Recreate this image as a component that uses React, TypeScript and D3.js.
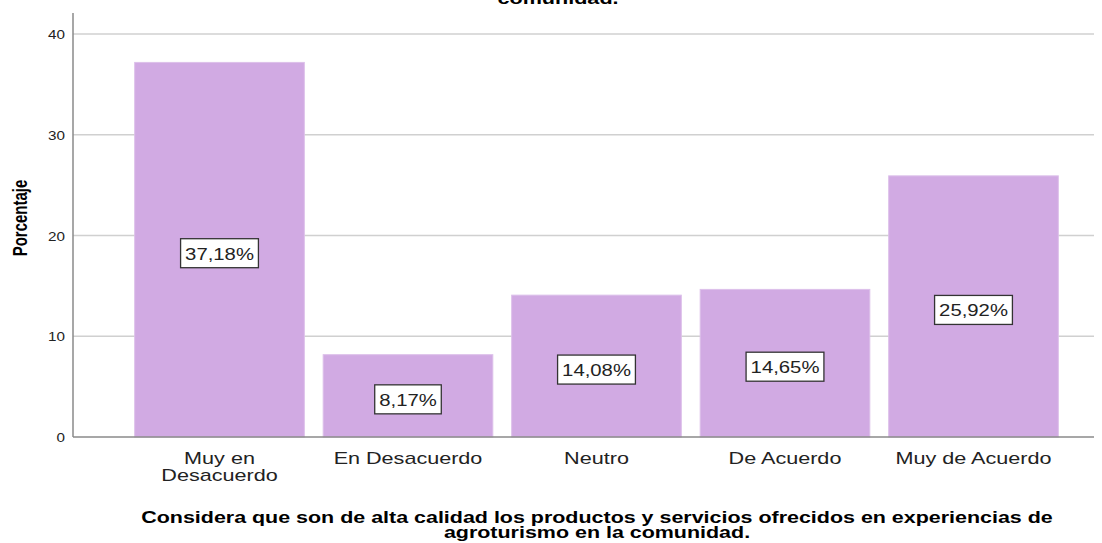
import React, { useEffect, useRef } from "react";
import * as d3 from "d3";

const categories = ["Muy en Desacuerdo", "En Desacuerdo", "Neutro", "De Acuerdo", "Muy de Acuerdo"];
const categoryLines = [["Muy en", "Desacuerdo"], ["En Desacuerdo"], ["Neutro"], ["De Acuerdo"], ["Muy de Acuerdo"]];
const values = [37.18, 8.17, 14.08, 14.65, 25.92];
const yTicks = [0, 10, 20, 30, 40];
const titleTail = "comunidad.";
const xTitleLines = [
  "Considera que son de alta calidad los productos y servicios ofrecidos en experiencias de",
  "agroturismo en la comunidad.",
];
const yTitle = "Porcentaje";

const W = 1102;
const H = 543;
const SX = 1.27;
const FONT = "'Liberation Sans', Arial, sans-serif";

export default function App() {
  const ref = useRef<SVGSVGElement | null>(null);

  useEffect(() => {
    const svg = d3.select(ref.current);
    svg.selectAll("*").remove();

    const x = d3.scaleBand<string>().domain(categories).range([125.25, 1067.75]).paddingInner(0.1).paddingOuter(0.05);
    const y = d3.scaleLinear().domain([0, 40]).range([437, 34]);
    const axisX0 = 73;
    const axisX1 = 1094;

    const txt = (g: any, x0: number, y0: number, s: string, size: number, opts: any = {}) =>
      g
        .append("text")
        .attr("transform", `translate(${x0},${y0}) scale(${opts.sx || SX},1)${opts.rotate ? " rotate(-90)" : ""}`)
        .attr("text-anchor", opts.anchor || "middle")
        .attr("font-family", FONT)
        .attr("font-size", size)
        .attr("font-weight", opts.bold ? "bold" : "normal")
        .attr("fill", opts.fill || "#000")
        .text(s);

    // gridlines
    svg
      .append("g")
      .selectAll("line")
      .data(yTicks.filter((t) => t > 0))
      .join("line")
      .attr("x1", axisX0)
      .attr("x2", axisX1)
      .attr("y1", (d) => y(d))
      .attr("y2", (d) => y(d))
      .attr("stroke", "#d0d0d0")
      .attr("stroke-width", 1.5);

    // bars
    svg
      .append("g")
      .selectAll("rect")
      .data(values)
      .join("rect")
      .attr("x", (_, i) => x(categories[i])!)
      .attr("width", x.bandwidth())
      .attr("y", (d) => y(d))
      .attr("height", (d) => y(0) - y(d))
      .attr("fill", "#d1aae3")
      .attr("stroke", "#dcc0ea")
      .attr("stroke-width", 1);

    // axes lines
    svg.append("line").attr("x1", axisX0).attr("x2", axisX0).attr("y1", y(42.08)).attr("y2", y(0)).attr("stroke", "#8a8a8a").attr("stroke-width", 1.5);
    svg.append("line").attr("x1", axisX0).attr("x2", axisX1).attr("y1", y(0)).attr("y2", y(0)).attr("stroke", "#8a8a8a").attr("stroke-width", 1.5);

    // y tick labels
    yTicks.forEach((t) => txt(svg, 65, y(t) + 5, String(t), 12, { anchor: "end", fill: "#222" }));

    // category labels
    categoryLines.forEach((lines, i) => {
      const cx = x(categories[i])! + x.bandwidth() / 2;
      lines.forEach((l, j) => txt(svg, cx, 464 + j * 17, l, 17, { fill: "#222" }));
    });

    // value labels
    values.forEach((v, i) => {
      const cx = x(categories[i])! + x.bandwidth() / 2;
      const mid = (y(v) + y(0)) / 2;
      const g = svg.append("g");
      const rect = g.append("rect");
      const t = txt(g, cx, mid + 10, v.toFixed(2).replace(".", ",") + "%", 16, { fill: "#222" });
      const bb = (t.node() as SVGTextElement).getBBox();
      const w = bb.width * SX + 9;
      rect
        .attr("x", cx - w / 2)
        .attr("y", mid - 11)
        .attr("width", w)
        .attr("height", 29)
        .attr("fill", "#fff")
        .attr("stroke", "#333")
        .attr("stroke-width", 1.3);
    });

    // titles
    txt(svg, 558, 4, titleTail, 17, { bold: true });
    xTitleLines.forEach((l, j) => txt(svg, 597, 523 + j * 14.5, l, 16.9, { bold: true }));
    txt(svg, 27, 218, yTitle, 15, { bold: true, rotate: true, sx: 1.35 });
  }, []);

  return (
    <svg
      ref={ref}
      width={W}
      height={H}
      style={{ position: "absolute", left: 0, top: 0, background: "#fff" }}
    />
  );
}
